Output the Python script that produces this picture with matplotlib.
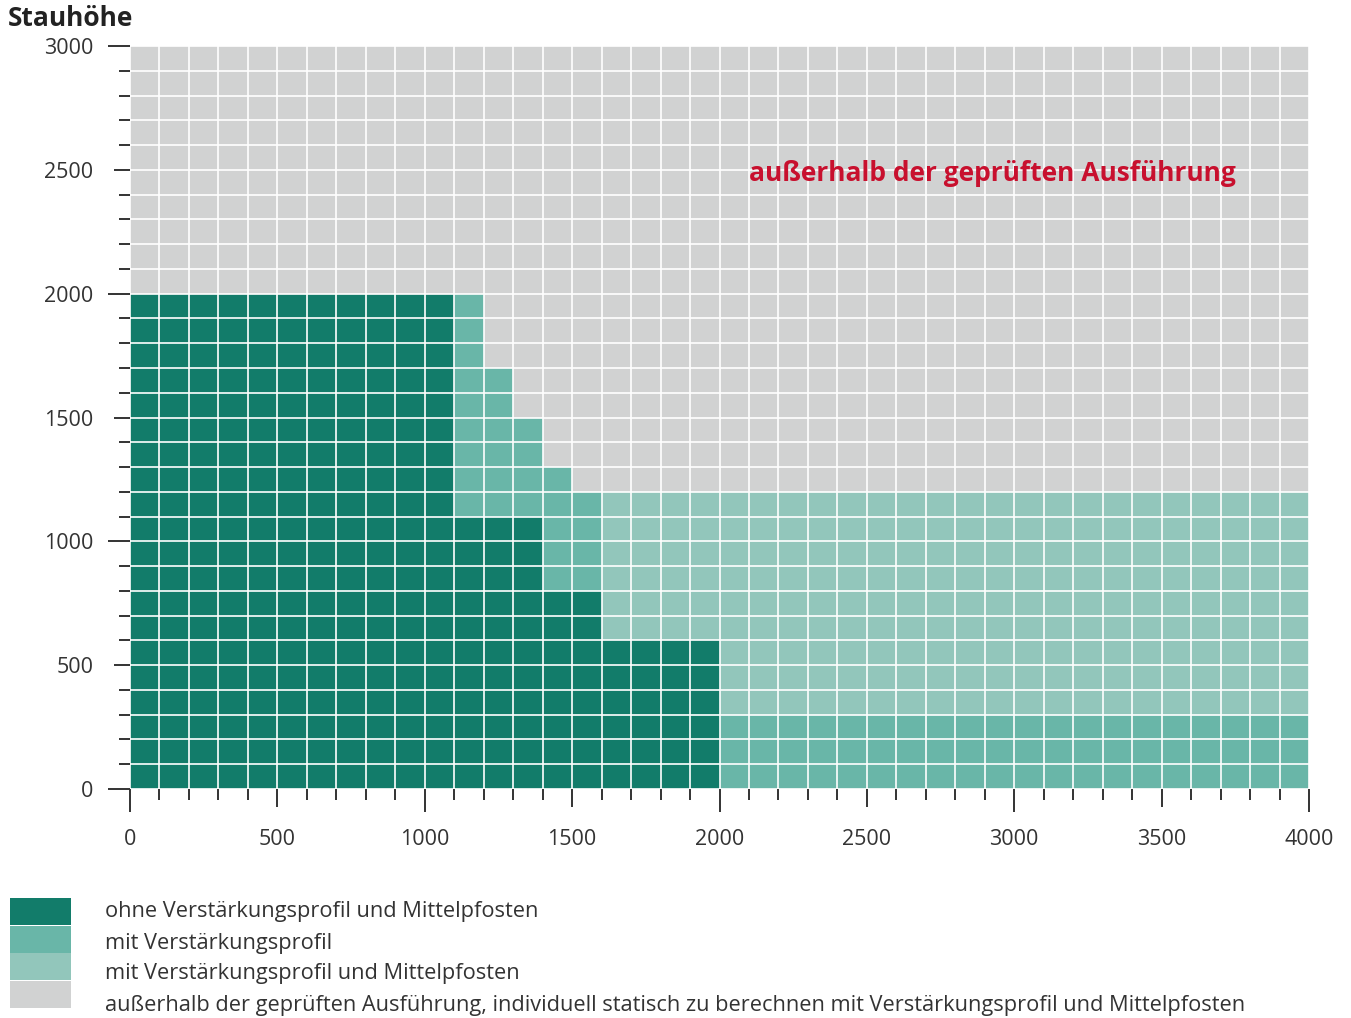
import matplotlib
matplotlib.use("Agg")
import matplotlib.pyplot as plt
from matplotlib.patches import Rectangle

# ──────────────────────────────────────────────
# Daten: je Zeile (100 mm Stauhöhe) das rechte Ende jeder Zone
# ──────────────────────────────────────────────
row_bottom = list(range(0, 3000, 100))
dark_end   = [2000, 2000, 2000, 2000, 2000, 2000, 1600, 1600, 1400, 1400,
              1400, 1100, 1100, 1100, 1100, 1100, 1100, 1100, 1100, 1100,
              0, 0, 0, 0, 0, 0, 0, 0, 0, 0]
medium_end = [4000, 4000, 4000, 2000, 2000, 2000, 1600, 1600, 1600, 1600,
              1600, 1600, 1500, 1400, 1400, 1300, 1300, 1200, 1200, 1200,
              0, 0, 0, 0, 0, 0, 0, 0, 0, 0]
light_end  = [4000, 4000, 4000, 4000, 4000, 4000, 4000, 4000, 4000, 4000,
              4000, 4000, 1500, 1400, 1400, 1300, 1300, 1200, 1200, 1200,
              0, 0, 0, 0, 0, 0, 0, 0, 0, 0]

legend_labels = [
    "ohne Verstärkungsprofil und Mittelpfosten",
    "mit Verstärkungsprofil",
    "mit Verstärkungsprofil und Mittelpfosten",
    "außerhalb der geprüften Ausführung, individuell statisch zu berechnen mit Verstärkungsprofil und Mittelpfosten",
]
annotation = "außerhalb der geprüften Ausführung"

C_DARK   = "#127c6a"
C_MEDIUM = "#69b6a8"
C_LIGHT  = "#92c6bb"
C_GRAY   = "#d1d2d2"
C_RED    = "#c8102e"
C_TEXT   = "#333333"
colors = [C_DARK, C_MEDIUM, C_LIGHT, C_GRAY]

plt.rcParams["font.family"] = ["Open Sans", "DejaVu Sans"]

W, H = 1351, 1018
fig = plt.figure(figsize=(W / 100, H / 100), dpi=100)
ax = fig.add_axes([130 / W, 1 - 789 / H, 1179 / W, 743 / H])
ax.set_facecolor(C_GRAY)

# ──────────────────────────────────────────────
# Zonen als gestapelte Balken
# ──────────────────────────────────────────────
left = [0] * len(row_bottom)
for ends, col in [(dark_end, C_DARK), (medium_end, C_MEDIUM), (light_end, C_LIGHT)]:
    widths = [max(e - l, 0) for e, l in zip(ends, left)]
    ax.barh(row_bottom, widths, left=left, height=100, align="edge",
            color=col, linewidth=0)
    left = [max(e, l) for e, l in zip(ends, left)]

ax.set_xlim(0, 4000)
ax.set_ylim(0, 3000)
for s in ax.spines.values():
    s.set_visible(False)

ax.set_xticks(range(0, 4001, 500))
ax.set_xticks(range(0, 4001, 100), minor=True)
ax.set_yticks(range(0, 3001, 500))
ax.set_yticks(range(0, 3001, 100), minor=True)
ax.grid(which="both", color="white", linewidth=1.2)
ax.set_axisbelow(False)

ax.tick_params(which="both", color=C_TEXT, width=1.4, labelcolor=C_TEXT, labelsize=15.5)
ax.tick_params(which="minor", length=8)
ax.tick_params(axis="x", which="major", pad=25)
ax.tick_params(axis="y", which="major", pad=23)

# längere Striche bei den Tausendern
for t, v in zip(ax.xaxis.get_major_ticks(), range(0, 4001, 500)):
    t.tick1line.set_markersize(16.6 if v % 1000 == 0 else 13)
for t, v in zip(ax.yaxis.get_major_ticks(), range(0, 3001, 500)):
    t.tick1line.set_markersize(15.8 if v % 1000 == 0 else 11.5)

ax.text(2925, 2485, annotation, color=C_RED, fontsize=19, fontweight="bold",
        ha="center", va="center")

fig.text(8 / W, 1 - 19 / H, "Stauhöhe", fontsize=19, fontweight="bold",
         color="#222222", ha="left", va="center")

# ──────────────────────────────────────────────
# Legende
# ──────────────────────────────────────────────
sw_top = [898, 926, 953, 981]
txt_y = [911, 943, 974, 1005]
for col, top, ty, lab in zip(colors, sw_top, txt_y, legend_labels):
    fig.patches.append(Rectangle((10 / W, 1 - (top + 27) / H), 61 / W, 27 / H,
                                 transform=fig.transFigure, color=col, linewidth=0))
    fig.text(105 / W, 1 - ty / H, lab, fontsize=15.7, color=C_TEXT,
             ha="left", va="center")

fig.savefig("out.png", dpi=100)
